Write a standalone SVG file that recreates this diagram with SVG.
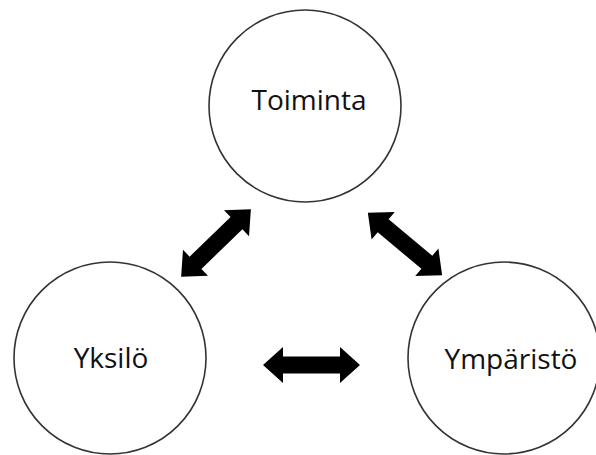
<svg xmlns="http://www.w3.org/2000/svg" xmlns:xlink="http://www.w3.org/1999/xlink" width="596" height="455" viewBox="0 0 596 455">
<style>
.node circle{fill:#fff;stroke:#333;stroke-width:1.6}
.node text{font-family:"Open Sans","Noto Sans",sans-serif;font-size:28px;fill:#111;text-anchor:middle}
.arrow{fill:#000}
</style>
<defs>
<path id="arr" d="M-48.5,0 L-28.5,-18 L-28.5,-8.5 L28.5,-8.5 L28.5,-18 L48.5,0 L28.5,18 L28.5,8.5 L-28.5,8.5 L-28.5,18 Z"/>
</defs>
<rect width="596" height="455" fill="#fff"/>
<g id="toiminta" class="node">
<circle cx="305" cy="106" r="96"/>
<text x="309" y="110">Toiminta</text>
</g>
<g id="yksilo" class="node">
<circle cx="110" cy="358" r="96"/>
<text x="111" y="368">Yksilö</text>
</g>
<g id="ymparisto" class="node">
<circle cx="504" cy="358" r="96"/>
<text x="511" y="369">Ympäristö</text>
</g>
<g id="connectors" class="arrow">
<use xlink:href="#arr" transform="translate(216,243) rotate(-44)"/>
<use xlink:href="#arr" transform="translate(405,244) rotate(40)"/>
<use xlink:href="#arr" transform="translate(311.5,365)"/>
</g>
</svg>
